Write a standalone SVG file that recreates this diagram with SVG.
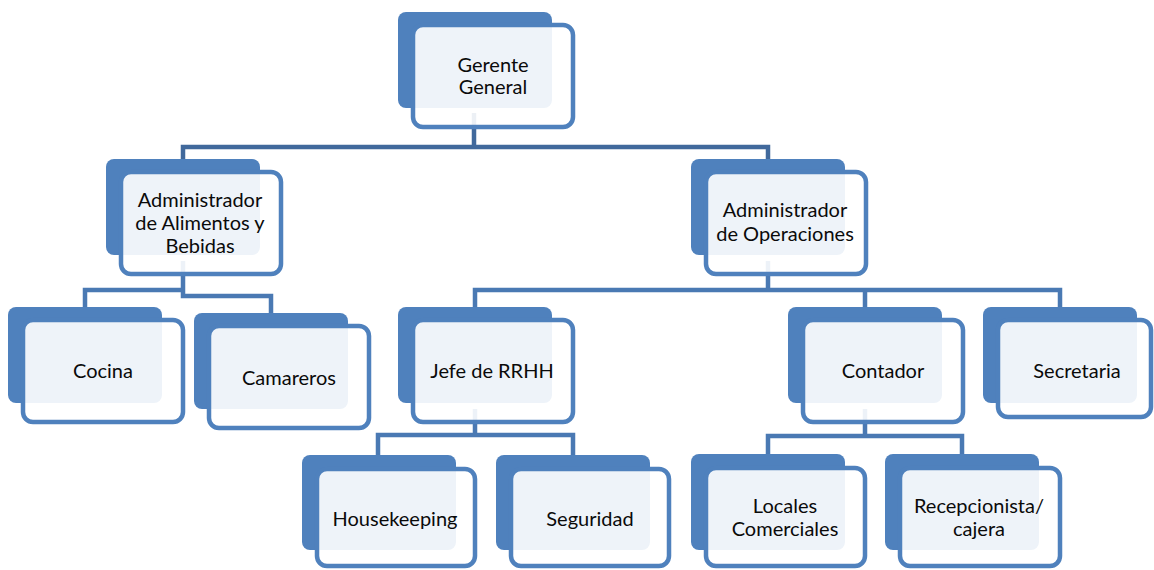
<svg xmlns="http://www.w3.org/2000/svg" width="1154" height="570" viewBox="0 0 1154 570">
<defs>
<style>
.bk{fill:#4f81bd}
.fr{fill:#ffffff;fill-opacity:0.9;stroke:#4f81bd;stroke-width:4.5}
.c1{fill:none;stroke:#41699c;stroke-width:4.5}
.c2{fill:none;stroke:#4a79b3;stroke-width:4.5}
text{font-family:Lato,"Open Sans","Liberation Sans",sans-serif;font-size:20px;fill:#0a0a0a;text-anchor:middle}
</style>
</defs>
<rect width="1154" height="570" fill="#fff"/>
<g id="connectors">
<path class="c1" d="M474,113 V147 H183 V159 M474,147 H768 V159"/>
<path class="c2" d="M183,261 V290 H85 V307 M183,290 V296 H271 V313"/>
<path class="c2" d="M768,261 V290 H475 V307 M768,290 H1060 V307 M865,290 V307"/>
<path class="c2" d="M475,409 V435 H378 V455 M475,435 H573 V455"/>
<path class="c2" d="M865,409 V436 H768 V454 M865,436 H962 V454"/>
</g>
<g id="gerente">
<rect class="bk" x="398" y="12" width="154" height="96" rx="8"/>
<rect class="fr" x="413" y="25" width="160" height="102" rx="10"/>
<text x="493" y="72">Gerente</text><text x="493" y="94">General</text>
</g>
<g id="admin-ab">
<rect class="bk" x="106" y="159" width="154" height="96" rx="8"/>
<rect class="fr" x="121" y="172" width="160" height="102" rx="10"/>
<text x="200" y="207">Administrador</text><text x="200" y="230">de Alimentos y</text><text x="200" y="253">Bebidas</text>
</g>
<g id="admin-ops">
<rect class="bk" x="691" y="159" width="154" height="96" rx="8"/>
<rect class="fr" x="706" y="172" width="160" height="102" rx="10"/>
<text x="785" y="217">Administrador</text><text x="785" y="241">de Operaciones</text>
</g>
<g id="cocina">
<rect class="bk" x="8" y="307" width="154" height="96" rx="8"/>
<rect class="fr" x="23" y="320" width="160" height="102" rx="10"/>
<text x="103" y="378">Cocina</text>
</g>
<g id="camareros">
<rect class="bk" x="194" y="313" width="154" height="96" rx="8"/>
<rect class="fr" x="209" y="326" width="160" height="102" rx="10"/>
<text x="289" y="385">Camareros</text>
</g>
<g id="jefe-rrhh">
<rect class="bk" x="398" y="307" width="154" height="96" rx="8"/>
<rect class="fr" x="413" y="320" width="160" height="102" rx="10"/>
<text x="492" y="378">Jefe de RRHH</text>
</g>
<g id="contador">
<rect class="bk" x="788" y="307" width="154" height="96" rx="8"/>
<rect class="fr" x="803" y="320" width="160" height="102" rx="10"/>
<text x="883" y="378">Contador</text>
</g>
<g id="secretaria">
<rect class="bk" x="983" y="307" width="154" height="96" rx="8"/>
<rect class="fr" x="998" y="320" width="153" height="97" rx="10"/>
<text x="1077" y="378">Secretaria</text>
</g>
<g id="housekeeping">
<rect class="bk" x="302" y="455" width="154" height="95" rx="8"/>
<rect class="fr" x="317" y="469" width="158" height="97" rx="10"/>
<text x="395" y="526">Housekeeping</text>
</g>
<g id="seguridad">
<rect class="bk" x="496" y="455" width="154" height="95" rx="8"/>
<rect class="fr" x="511" y="469" width="158" height="97" rx="10"/>
<text x="590" y="526">Seguridad</text>
</g>
<g id="locales">
<rect class="bk" x="691" y="454" width="154" height="96" rx="8"/>
<rect class="fr" x="706" y="468" width="159" height="98" rx="10"/>
<text x="785" y="513">Locales</text><text x="785" y="536">Comerciales</text>
</g>
<g id="recepcionista">
<rect class="bk" x="885" y="454" width="154" height="96" rx="8"/>
<rect class="fr" x="900" y="468" width="160" height="98" rx="10"/>
<text x="979" y="513">Recepcionista/</text><text x="979" y="536">cajera</text>
</g>
</svg>
